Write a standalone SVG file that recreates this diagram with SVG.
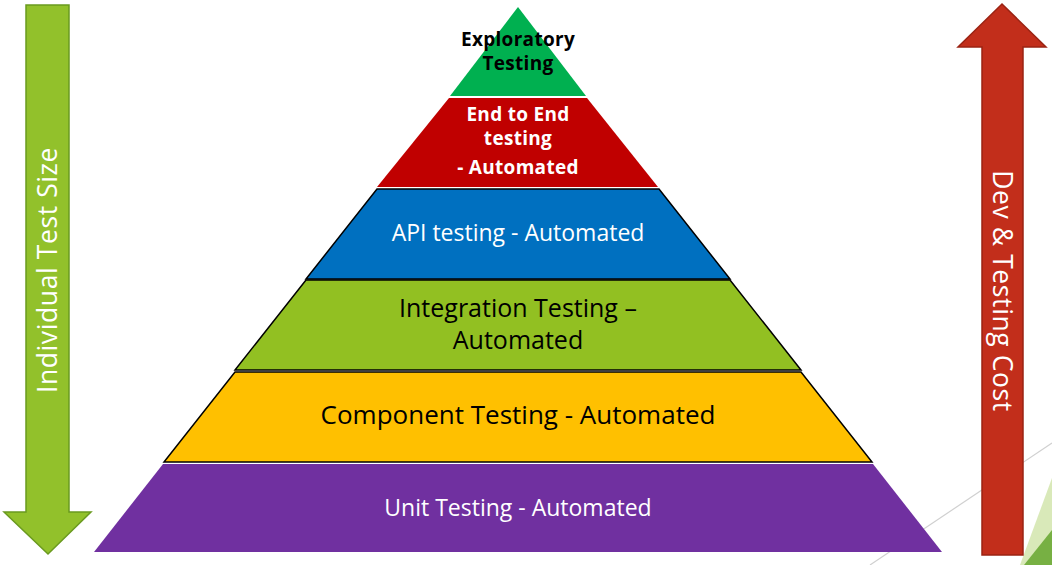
<svg xmlns="http://www.w3.org/2000/svg" width="1052" height="565" viewBox="0 0 1052 565">
  <style>
    .lbl { font-family: "Open Sans", "Noto Sans", "Liberation Sans", sans-serif; text-anchor: middle; }
    .w { fill: #ffffff; }
    .k { fill: #000000; }
    .b { font-weight: bold; }
    .band { stroke: #000000; stroke-width: 1.5; stroke-linejoin: miter; }
  </style>

  <rect width="1052" height="565" fill="#ffffff"/>

  <!-- background decoration -->
  <g id="backdrop">
    <line x1="870" y1="565" x2="1052" y2="443" stroke="#d0d0d0" stroke-width="1.2"/>
    <polygon points="1052,478 1052,565 1020,565" fill="#cfe3a8" opacity="0.8"/>
    <polygon points="1052,530 1052,565 1024,565" fill="#77b043"/>
  </g>

  <!-- pyramid tiers, top to bottom -->
  <g id="tier-exploratory">
    <polygon points="518,7 586,96 450,96" fill="#00b050"/>
    <text class="lbl k b" x="518" y="46" font-size="19" letter-spacing="0.3">Exploratory<tspan x="518" dy="24">Testing</tspan></text>
  </g>

  <g id="tier-e2e">
    <polygon points="449,98 587,98 658,187 377,187" fill="#c00000"/>
    <text class="lbl w b" x="518" y="121" font-size="19" letter-spacing="0.3">End to End<tspan x="518" dy="24">testing</tspan></text>
    <text class="lbl w b" x="518" y="174" font-size="19" letter-spacing="0.3">- Automated</text>
  </g>

  <g id="tier-api">
    <polygon class="band" points="377,189 659,189 730,279 306,279" fill="#0070c0"/>
    <text class="lbl w" x="518" y="241" font-size="23">API testing - Automated</text>
  </g>

  <g id="tier-integration">
    <polygon class="band" points="306,280 730,280 801,370 235,370" fill="#92c022"/>
    <text class="lbl k" x="518" y="317" font-size="25">Integration Testing –<tspan x="518" dy="32">Automated</tspan></text>
  </g>

  <g id="tier-component">
    <polygon class="band" points="235,372 801,372 872,462 164,462" fill="#ffc000"/>
    <text class="lbl k" x="518" y="424" font-size="26">Component Testing - Automated</text>
  </g>

  <g id="tier-unit">
    <polygon points="163,464 873,464 942,552 94,552" fill="#7030a0"/>
    <text class="lbl w" x="518" y="516" font-size="23">Unit Testing - Automated</text>
  </g>

  <!-- side axes -->
  <g id="axis-size">
    <polygon points="26,5 69,5 69,512 91,512 48,554 4,512 26,512" fill="#92c12b" stroke="#6a9a1f" stroke-width="1.5" stroke-linejoin="miter"/>
    <text class="lbl w" x="0" y="0" font-size="26.5" letter-spacing="0.6" transform="translate(57,270) rotate(-90)">Individual Test Size</text>
  </g>

  <g id="axis-cost">
    <polygon points="1002,4 1046,47 1023,47 1023,555 982,555 982,47 958,47" fill="#c22e1b" stroke="#9b2313" stroke-width="1.5" stroke-linejoin="miter"/>
    <text class="lbl w" x="0" y="0" font-size="26.5" letter-spacing="0.6" transform="translate(993,291) rotate(90)">Dev &amp; Testing Cost</text>
  </g>
</svg>
